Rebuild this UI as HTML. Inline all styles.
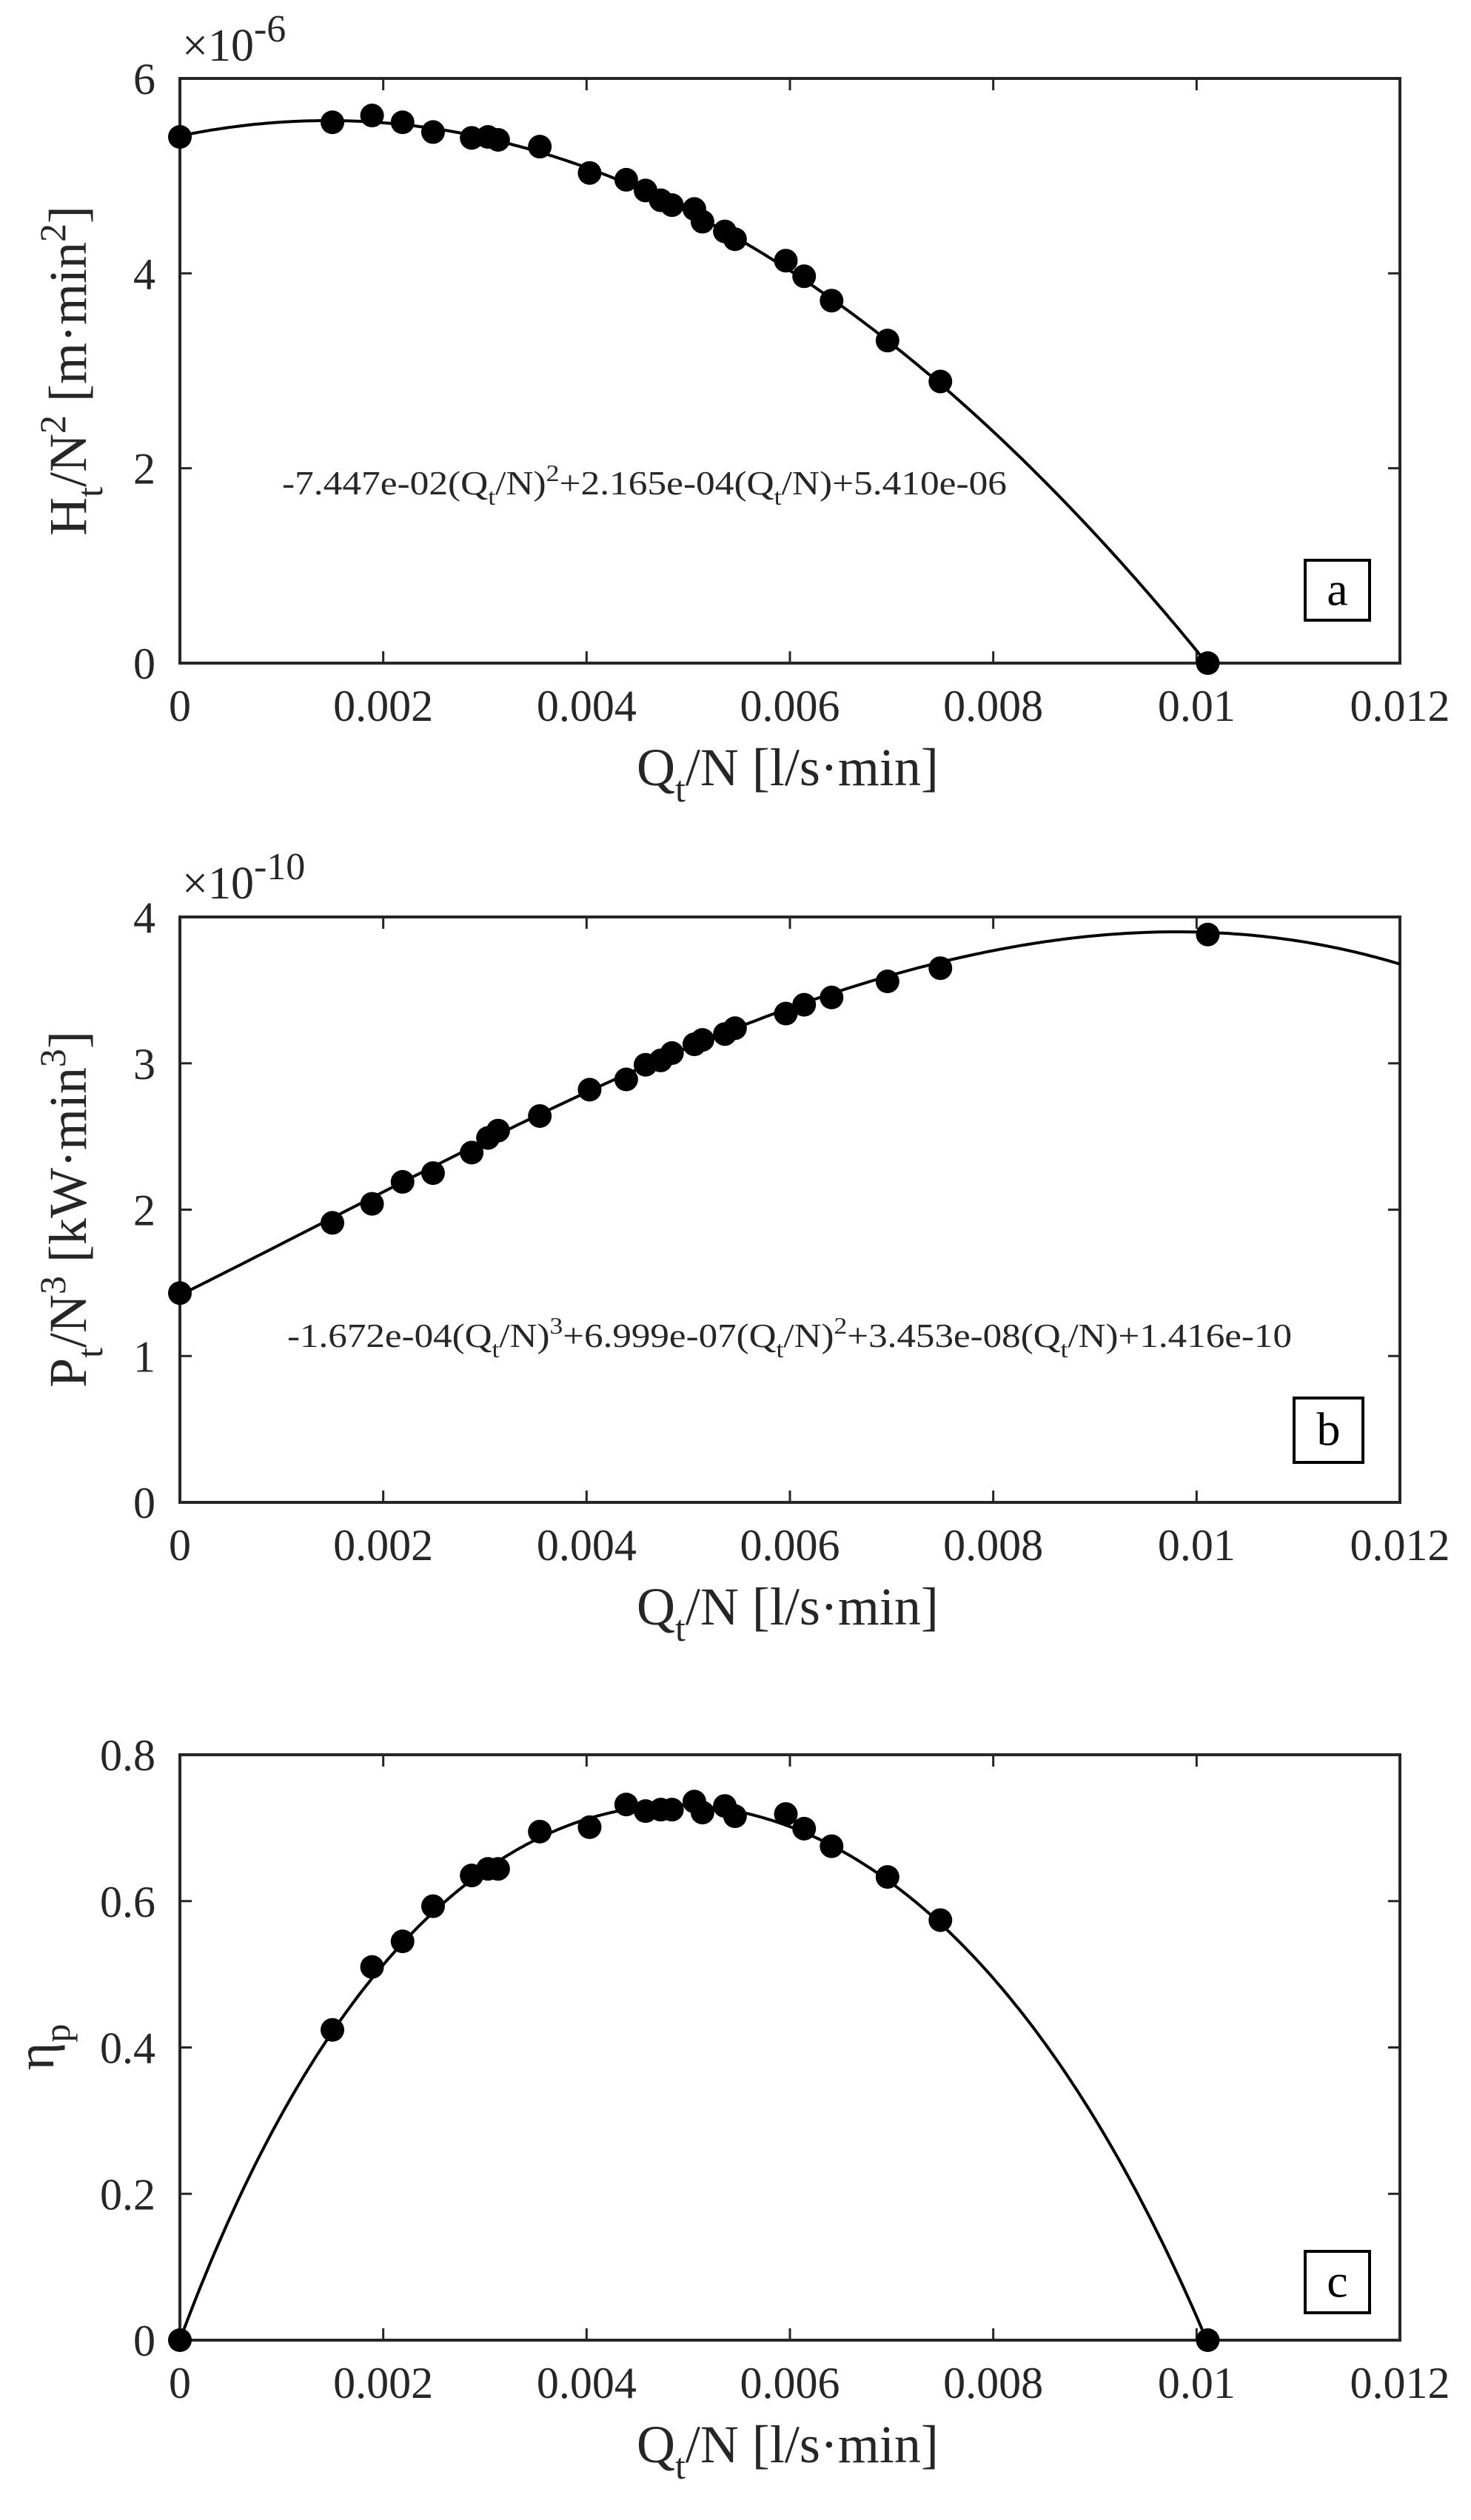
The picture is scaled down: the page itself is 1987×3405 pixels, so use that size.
<!DOCTYPE html>
<html><head><meta charset="utf-8"><style>
html,body{margin:0;padding:0;background:#fff;}
svg{display:block;}
text{font-family:"Liberation Serif",serif;fill:#262626;}
</style></head><body>
<svg id="fig" width="1987" height="3405" viewBox="0 0 1987 3405" xmlns="http://www.w3.org/2000/svg"></svg>
<script>
// Shared x data (Qt/N)
const qData = [0, 0.00150, 0.00189, 0.00219, 0.00249, 0.00287, 0.00303, 0.00313, 0.00354, 0.00403, 0.00439, 0.00458, 0.00473, 0.00484, 0.00506, 0.00514, 0.00536, 0.00546, 0.00596, 0.00614, 0.00641, 0.00696, 0.00748, 0.01011];
// Head coefficient values (x1e-6)
const hData = [5.40, 5.55, 5.62, 5.55, 5.45, 5.39, 5.40, 5.37, 5.30, 5.03, 4.96, 4.85, 4.75, 4.70, 4.66, 4.53, 4.43, 4.35, 4.13, 3.97, 3.72, 3.31, 2.89, 0];
// Power coefficient values (x1e-10)
const pData = [1.43, 1.91, 2.04, 2.19, 2.25, 2.39, 2.49, 2.54, 2.64, 2.82, 2.89, 2.99, 3.02, 3.07, 3.13, 3.16, 3.20, 3.24, 3.34, 3.40, 3.45, 3.56, 3.65, 3.88];
// Efficiency values
const etaData = [0, 0.424, 0.51, 0.545, 0.593, 0.635, 0.644, 0.644, 0.695, 0.701, 0.732, 0.723, 0.725, 0.725, 0.736, 0.721, 0.730, 0.716, 0.719, 0.699, 0.675, 0.633, 0.574, 0];
// Fit coefficients (highest power first)
const hFit = [-7.447e-02, 2.165e-04, 5.410e-06];
const pFit = [-1.672e-04, 6.999e-07, 3.453e-08, 1.416e-10];
// Tick labels
const xTicks = [0, 0.002, 0.004, 0.006, 0.008, 0.01, 0.012];
const xTickLabels = ["0", "0.002", "0.004", "0.006", "0.008", "0.01", "0.012"];
const hTicks = [0, 2, 4, 6];
const pTicks = [0, 1, 2, 3, 4];
const etaTicks = [0, 0.2, 0.4, 0.6, 0.8];
const etaTickLabels = ["0", "0.2", "0.4", "0.6", "0.8"];

const NS = "http://www.w3.org/2000/svg";
const svg = document.getElementById('fig');
function mk(tag, attrs, parent) {
  const e = document.createElementNS(NS, tag);
  for (const k in attrs) e.setAttribute(k, attrs[k]);
  (parent || svg).appendChild(e);
  return e;
}
function polyval(c, x) { let v = 0; for (const a of c) v = v * x + a; return v; }

const L = 243, R = 1891, XMAX = 0.012;
function xs(q) { return L + q / XMAX * (R - L); }

function panel(name, top, bot, ymax) {
  const g = mk('g', {});
  
  
  const ys = v => bot - v / ymax * (bot - top);
  return { g, ys, top, bot };
}

function drawAxes(P, yTicks, yLabels) {
  const { g, ys, top, bot } = P;
  const ax = mk('rect', { x: L, y: top, width: R - L, height: bot - top, fill: 'none', stroke: '#262626', 'stroke-width': 4 }, g);
  
  
  xTicks.forEach((t, i) => {
    const x = xs(t);
    mk('line', { x1: x, y1: bot, x2: x, y2: bot - 16, stroke: '#262626', 'stroke-width': 3 }, g);
    mk('line', { x1: x, y1: top, x2: x, y2: top + 16, stroke: '#262626', 'stroke-width': 3 }, g);
    const tx = mk('text', { x: x, y: bot + 78, 'font-size': 60, 'text-anchor': 'middle' }, g);
    tx.textContent = xTickLabels[i];
    
    
  });
  yTicks.forEach((t, i) => {
    const y = ys(t);
    mk('line', { x1: L, y1: y, x2: L + 16, y2: y, stroke: '#262626', 'stroke-width': 3 }, g);
    mk('line', { x1: R, y1: y, x2: R - 16, y2: y, stroke: '#262626', 'stroke-width': 3 }, g);
    const tx = mk('text', { x: 210, y: y + 21, 'font-size': 60, 'text-anchor': 'end' }, g);
    tx.textContent = yLabels[i];
    
    
  });
  const xl = mk('text', { x: 860, y: bot + 165, 'font-size': 72 }, g);
  xl.innerHTML = 'Q<tspan dy="22" font-size="50">t</tspan><tspan dy="-22">/N [l/s·min]</tspan>';
  
  
}

function drawCurve(P, f, x0, x1, name) {
  let d = '';
  const n = 300;
  for (let i = 0; i <= n; i++) {
    const q = x0 + (x1 - x0) * i / n;
    const v = f(q);
    d += (i ? 'L' : 'M') + xs(q).toFixed(1) + ',' + P.ys(v).toFixed(1);
  }
  const p = mk('path', { d, fill: 'none', stroke: '#000', 'stroke-width': 4 }, P.g);
  
  
}
function drawPoints(P, vals, name) {
  vals.forEach((v, i) => {
    const c = mk('circle', { cx: xs(qData[i]), cy: P.ys(v), r: 16, fill: '#000' }, P.g);
    
    
  });
}
function labelBox(P, x, y, w, h, letter) {
  const r = mk('rect', { x, y, width: w, height: h, fill: '#fff', stroke: '#000', 'stroke-width': 4 }, P.g);
  
  
  const t = mk('text', { x: x + w / 2, y: y + h / 2 + 20, 'font-size': 64, 'text-anchor': 'middle', style: 'fill:#000' }, P.g);
  t.textContent = letter;
  
  
}
function exponent(P, txt, y) {
  const t = mk('text', { x: 246, y: y, 'font-size': 62 }, P.g);
  t.innerHTML = '×10<tspan dy="-26" font-size="52">' + txt + '</tspan>';
  
  
}

function hF(q) { return polyval(hFit, q); }
function pF(q) { return polyval(pFit, q); }
const qZero = (-hFit[1] - Math.sqrt(hFit[1] * hFit[1] - 4 * hFit[0] * hFit[2])) / (2 * hFit[0]);

// Panel a
const A = panel('head-panel', 106, 896, 6);
drawAxes(A, hTicks, hTicks.map(String));
drawCurve(A, q => hF(q) * 1e6, 0, qZero, 'head-fit-curve');
drawPoints(A, hData, 'head-point');
exponent(A, '-6', 82);
{
  const t = mk('text', { x: 381, y: 668, 'font-size': 46, textLength: 979, lengthAdjust: 'spacingAndGlyphs' }, A.g);
  t.innerHTML = '-7.447e-02(Q<tspan dy="14" font-size="32">t</tspan><tspan dy="-14">/N)</tspan><tspan dy="-18" font-size="32">2</tspan><tspan dy="18">+2.165e-04(Q</tspan><tspan dy="14" font-size="32">t</tspan><tspan dy="-14">/N)+5.410e-06</tspan>';
  
  
  const yl = mk('text', { transform: 'translate(116,501) rotate(-90)', 'font-size': 72, 'text-anchor': 'middle' }, A.g);
  yl.innerHTML = 'H<tspan dy="22" font-size="50">t</tspan><tspan dy="-22">/N</tspan><tspan dy="-28" font-size="50">2</tspan><tspan dy="28"> [m·min</tspan><tspan dy="-28" font-size="50">2</tspan><tspan dy="28">]</tspan>';
  
  
}
labelBox(A, 1763, 757, 87, 81, 'a');

// Panel b
const B = panel('power-panel', 1239, 2030, 4);
drawAxes(B, pTicks, pTicks.map(String));
drawCurve(B, q => pF(q) * 1e10, 0, XMAX, 'power-fit-curve');
drawPoints(B, pData, 'power-point');
exponent(B, '-10', 1214);
{
  const t = mk('text', { x: 388, y: 1820, 'font-size': 46, textLength: 1357, lengthAdjust: 'spacingAndGlyphs' }, B.g);
  t.innerHTML = '-1.672e-04(Q<tspan dy="14" font-size="32">t</tspan><tspan dy="-14">/N)</tspan><tspan dy="-18" font-size="32">3</tspan><tspan dy="18">+6.999e-07(Q</tspan><tspan dy="14" font-size="32">t</tspan><tspan dy="-14">/N)</tspan><tspan dy="-18" font-size="32">2</tspan><tspan dy="18">+3.453e-08(Q</tspan><tspan dy="14" font-size="32">t</tspan><tspan dy="-14">/N)+1.416e-10</tspan>';
  
  
  const yl = mk('text', { transform: 'translate(116,1634) rotate(-90)', 'font-size': 72, 'text-anchor': 'middle' }, B.g);
  yl.innerHTML = 'P<tspan dy="22" font-size="50">t</tspan><tspan dy="-22">/N</tspan><tspan dy="-28" font-size="50">3</tspan><tspan dy="28"> [kW·min</tspan><tspan dy="-28" font-size="50">3</tspan><tspan dy="28">]</tspan>';
  
  
}
labelBox(B, 1748, 1889, 93, 87, 'b');

// Panel c
const C = panel('efficiency-panel', 2371, 3162, 0.8);
drawAxes(C, etaTicks, etaTickLabels);
drawCurve(C, q => 9.81 * q * hF(q) / (pF(q) * 1000), 0, qZero, 'efficiency-fit-curve');
drawPoints(C, etaData, 'efficiency-point');
{
  const yl = mk('text', { transform: 'translate(72,2766) rotate(-90)', 'font-size': 72, 'text-anchor': 'middle' }, C.g);
  yl.innerHTML = 'η<tspan dy="22" font-size="50">p</tspan>';
  
  
}
labelBox(C, 1763, 3042, 87, 83, 'c');
</script>
</body></html>
